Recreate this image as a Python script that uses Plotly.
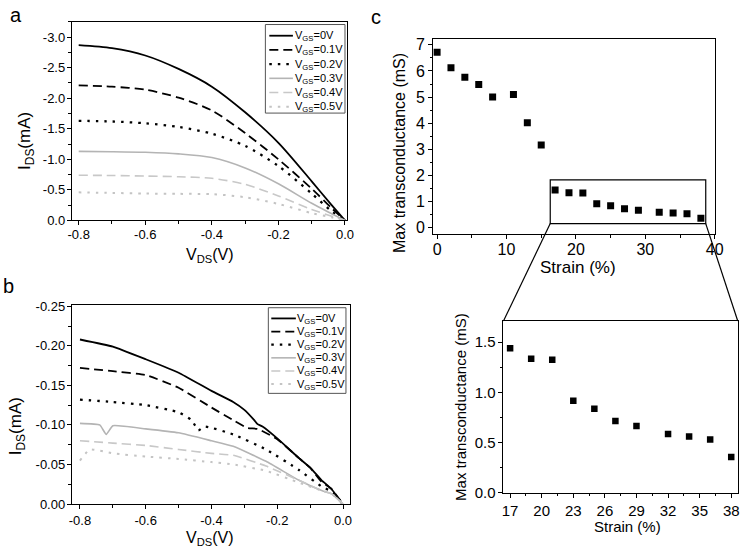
import plotly.graph_objects as go

W, H = 750, 560

# ---------------- data: panel a ----------------
a_vds = [-0.8, -0.7, -0.6, -0.5, -0.4, -0.3, -0.2, -0.1, -0.04, 0.0]
a_vgs0 = [-2.87, -2.82, -2.70, -2.48, -2.19, -1.77, -1.27, -0.64, -0.25, 0.0]
a_vgs01 = [-2.21, -2.19, -2.14, -2.01, -1.80, -1.43, -1.00, -0.52, -0.20, 0.0]
a_vgs02 = [-1.63, -1.62, -1.59, -1.53, -1.42, -1.22, -0.89, -0.44, -0.15, 0.0]
a_vgs03 = [-1.13, -1.125, -1.115, -1.09, -1.03, -0.86, -0.60, -0.28, -0.11, 0.0]
a_vgs04 = [-0.74, -0.735, -0.726, -0.715, -0.69, -0.59, -0.40, -0.18, -0.07, 0.0]
a_vgs05 = [-0.46, -0.45, -0.44, -0.435, -0.43, -0.38, -0.27, -0.12, -0.05, 0.0]

# ---------------- data: panel b ----------------
b0_v = [-0.8, -0.7, -0.6, -0.5, -0.4, -0.334, -0.3, -0.27, -0.26, -0.245, -0.2, -0.134, -0.1, -0.065, -0.035, 0.004]
b0_i = [-0.208, -0.199, -0.183, -0.166, -0.143, -0.129, -0.119, -0.106, -0.101, -0.098, -0.083, -0.058, -0.046, -0.030, -0.019, 0.004]
b1_v = [-0.8, -0.7, -0.6, -0.5, -0.4, -0.33, -0.29, -0.26, -0.2, -0.134, -0.1, -0.065, -0.035, 0.0]
b1_i = [-0.172, -0.168, -0.163, -0.147, -0.122, -0.105, -0.096, -0.095, -0.082, -0.058, -0.046, -0.028, -0.019, 0.0]
b2_v = [-0.8, -0.7, -0.6, -0.5, -0.46, -0.44, -0.42, -0.334, -0.234, -0.134, -0.065, -0.035, 0.0]
b2_i = [-0.132, -0.129, -0.125, -0.116, -0.106, -0.093, -0.098, -0.088, -0.069, -0.043, -0.022, -0.016, 0.0]
b3_v = [-0.8, -0.74, -0.72, -0.70, -0.6, -0.5, -0.4, -0.334, -0.234, -0.134, -0.065, -0.035, 0.0]
b3_i = [-0.102, -0.100, -0.088, -0.099, -0.095, -0.090, -0.080, -0.073, -0.054, -0.030, -0.017, -0.013, 0.0]
b4_v = [-0.8, -0.7, -0.6, -0.5, -0.4, -0.334, -0.234, -0.134, -0.065, -0.035, 0.0]
b4_i = [-0.080, -0.077, -0.074, -0.069, -0.064, -0.0616, -0.048, -0.030, -0.017, -0.013, 0.0]
b5_v = [-0.8, -0.77, -0.7, -0.6, -0.5, -0.4, -0.334, -0.234, -0.134, -0.065, -0.035, 0.0]
b5_i = [-0.055, -0.069, -0.064, -0.060, -0.057, -0.053, -0.050, -0.042, -0.027, -0.017, -0.013, 0.0]

# ---------------- data: panel c ----------------
strain = [0, 2, 4, 6, 8, 11, 13, 15, 17, 19, 21, 23, 25, 27, 29, 32, 34, 36, 38]
gm_max = [6.72, 6.12, 5.76, 5.48, 5.00, 5.10, 4.02, 3.16,
          1.44, 1.335, 1.325, 0.915, 0.835, 0.715, 0.665, 0.585, 0.56, 0.53, 0.355]
inset_strain = strain[8:]
inset_gm = gm_max[8:]

legend_labels = ["V<sub>GS</sub>=0V", "V<sub>GS</sub>=0.1V", "V<sub>GS</sub>=0.2V",
                 "V<sub>GS</sub>=0.3V", "V<sub>GS</sub>=0.4V", "V<sub>GS</sub>=0.5V"]

a_xtick_vals = [-0.8, -0.6, -0.4, -0.2, 0.0]
a_xtick_text = ["-0.8", "-0.6", "-0.4", "-0.2", "0.0"]
a_ytick_vals = [0.0, -0.5, -1.0, -1.5, -2.0, -2.5, -3.0]
a_ytick_text = ["0.0", "-0.5", "-1.0", "-1.5", "-2.0", "-2.5", "-3.0"]
b_ytick_vals = [0.0, -0.05, -0.10, -0.15, -0.20, -0.25]
b_ytick_text = ["0.00", "-0.05", "-0.10", "-0.15", "-0.20", "-0.25"]
c_xtick_vals = [0, 10, 20, 30, 40]
c_ytick_vals = [0, 1, 2, 3, 4, 5, 6, 7]
inset_xtick_vals = [17, 20, 23, 26, 29, 32, 35, 38]
inset_ytick_vals = [0.0, 0.5, 1.0, 1.5]
inset_ytick_text = ["0.0", "0.5", "1.0", "1.5"]

FONT = "Liberation Sans, Arial, sans-serif"

# ---------------- styles ----------------
styles = [
    dict(color="#000000", width=1.8, dash="solid"),
    dict(color="#000000", width=1.8, dash="9px,5px"),
    dict(color="#000000", width=2.3, dash="2.5px,6px"),
    dict(color="#b4b4b4", width=1.6, dash="solid"),
    dict(color="#c8c8c8", width=1.6, dash="9px,5px"),
    dict(color="#c4c4c4", width=2.0, dash="2.5px,6px"),
]

def px2x(p):
    return p / W

def px2y(p):
    return 1 - p / H

fig = go.Figure()

a_series = [a_vgs0, a_vgs01, a_vgs02, a_vgs03, a_vgs04, a_vgs05]
for lab, ys, st in zip(legend_labels, a_series, styles):
    fig.add_trace(go.Scatter(x=a_vds, y=ys, mode="lines", name=lab, line=dict(shape="spline", smoothing=0.8, **st),
                             xaxis="x", yaxis="y", showlegend=False))

b_series = [(b0_v, b0_i), (b1_v, b1_i), (b2_v, b2_i), (b3_v, b3_i), (b4_v, b4_i), (b5_v, b5_i)]
for lab, (xs, ys), st in zip(legend_labels, b_series, styles):
    fig.add_trace(go.Scatter(x=xs, y=ys, mode="lines", name=lab, line=dict(shape="spline", smoothing=0.4, **st),
                             xaxis="x2", yaxis="y2", showlegend=False))

fig.add_trace(go.Scatter(x=strain, y=gm_max, mode="markers",
                         marker=dict(symbol="square", size=7, color="black"),
                         xaxis="x3", yaxis="y3", showlegend=False))
fig.add_trace(go.Scatter(x=inset_strain, y=inset_gm, mode="markers",
                         marker=dict(symbol="square", size=6.5, color="black"),
                         xaxis="x4", yaxis="y4", showlegend=False))

def ax(domain, rng, tickvals, ticktext=None, size=13, minor_dtick=None, minor_tick0=0, standoff=0):
    d = dict(domain=domain, range=rng, showline=True, linecolor="black", linewidth=1,
             mirror=True, ticks="outside", ticklen=4, tickwidth=1, tickcolor="black",
             showgrid=False, zeroline=False, tickmode="array", tickvals=tickvals,
             ticklabelstandoff=standoff,
             tickfont=dict(family=FONT, size=size, color="black"))
    if ticktext is not None:
        d["ticktext"] = ticktext
    if minor_dtick is not None:
        d["minor"] = dict(dtick=minor_dtick, tick0=minor_tick0, ticklen=2.5, tickwidth=1,
                          tickcolor="black", ticks="outside", showgrid=False)
    return d

def mirror_ax(base, side, tickvals, rng, minor_dtick, minor_tick0=0):
    return dict(overlaying=base, side=side, range=rng, showline=False, showgrid=False,
                zeroline=False, showticklabels=False, ticks="inside", ticklen=4, tickwidth=1,
                tickcolor="black", tickmode="array", tickvals=tickvals,
                minor=dict(dtick=minor_dtick, tick0=minor_tick0, ticklen=2.5, tickwidth=1,
                           tickcolor="black", ticks="inside", showgrid=False))

# domains (pixel -> paper)
a_x = [px2x(69), px2x(349)]
a_y = [px2y(219.3), px2y(15)]
b_x = [px2x(69), px2x(352)]
b_y = [px2y(510.7), px2y(306.7)]
c_x = [px2x(436.7), px2x(723.3)]
c_y = [px2y(233.3), px2y(33.3)]
i_x = [px2x(508.3), px2x(746.7)]
i_y = [px2y(499), px2y(322.7)]

a_xr = [-0.8207, 0.0059]
a_yr = [0, -3.255]
b_xr = [-0.8248, 0.0209]
b_yr = [0, -0.251]
c_xr = [-0.57, 40.0]
c_yr = [-0.25, 7.21]
i_xr = [16.37, 38.62]
i_yr = [0, 1.71]

fig.update_layout(
    xaxis=ax(a_x, a_xr, a_xtick_vals, a_xtick_text, 13, 0.1, 0, -2),
    yaxis=ax(a_y, a_yr, a_ytick_vals, a_ytick_text, 13, 0.25, 0, -1),
    xaxis2=dict(ax(b_x, b_xr, a_xtick_vals, a_xtick_text, 13, 0.1, 0, 0), anchor="y2"),
    yaxis2=dict(ax(b_y, b_yr, b_ytick_vals, b_ytick_text, 13, 0.025, 0, -1), anchor="x2"),
    xaxis3=dict(ax(c_x, c_xr, c_xtick_vals, None, 16, 5, 0, -3), anchor="y3"),
    yaxis3=dict(ax(c_y, c_yr, c_ytick_vals, None, 16, 0.5, 0, 0), anchor="x3"),
    xaxis4=dict(ax(i_x, i_xr, inset_xtick_vals, None, 15, 1.5, 17, 0), anchor="y4"),
    yaxis4=dict(ax(i_y, i_yr, inset_ytick_vals, inset_ytick_text, 15, 0.25, 0, 0), anchor="x4"),
    xaxis5=dict(mirror_ax("x3", "top", c_xtick_vals, c_xr, 5), anchor="y3"),
    yaxis5=dict(mirror_ax("y3", "right", c_ytick_vals, c_yr, 0.5), anchor="x3"),
    xaxis6=dict(mirror_ax("x4", "top", inset_xtick_vals, i_xr, 1.5, 17), anchor="y4"),
    yaxis6=dict(mirror_ax("y4", "right", inset_ytick_vals, i_yr, 0.25), anchor="x4"),
)

# zoom rectangle on panel c and connecting lines
rect_x0, rect_x1, rect_y0, rect_y1 = 16.3, 38.7, 0.15, 1.83
shapes = [dict(type="rect", xref="x3", yref="y3", x0=rect_x0, x1=rect_x1, y0=rect_y0, y1=rect_y1,
               line=dict(color="black", width=1.2))]

def data2paper(v, rng, dom):
    return dom[0] + (v - rng[0]) / (rng[1] - rng[0]) * (dom[1] - dom[0])

bl = (data2paper(rect_x0, c_xr, c_x), data2paper(rect_y0, c_yr, c_y))
br = (data2paper(rect_x1, c_xr, c_x), data2paper(rect_y0, c_yr, c_y))
shapes.append(dict(type="line", xref="paper", yref="paper", x0=bl[0], y0=bl[1], x1=i_x[0], y1=i_y[1],
                   line=dict(color="black", width=1.2)))
shapes.append(dict(type="line", xref="paper", yref="paper", x0=br[0], y0=br[1], x1=i_x[1], y1=i_y[1],
                   line=dict(color="black", width=1.2)))

annotations = []

def legend_block(box, y0, dy, line_x, text_x):
    shapes.append(dict(type="rect", xref="paper", yref="paper",
                       x0=px2x(box[0]), x1=px2x(box[1]), y0=px2y(box[3]), y1=px2y(box[2]),
                       line=dict(color="#555555", width=1), fillcolor="white", layer="above"))
    for k, (lab, st) in enumerate(zip(legend_labels, styles)):
        yy = y0 + k * dy
        shapes.append(dict(type="line", xref="paper", yref="paper",
                           x0=px2x(line_x[0]), x1=px2x(line_x[1]), y0=px2y(yy), y1=px2y(yy),
                           line=dict(color=st["color"], width=st["width"], dash=st["dash"]), layer="above"))
        annotations.append(dict(xref="paper", yref="paper", x=px2x(text_x), y=px2y(yy + 0.5),
                                text=lab, showarrow=False, xanchor="left", yanchor="middle",
                                font=dict(family=FONT, size=11, color="black")))

legend_block((266, 347, 18, 109), 29.5, 14.6, (270, 294), 294.5)
legend_block((269, 348, 309, 397), 320, 13.5, (272, 297), 296.5)

def text(x, y, s, size, angle=0, xanchor="center"):
    annotations.append(dict(xref="paper", yref="paper", x=px2x(x), y=px2y(y), text=s,
                            showarrow=False, textangle=angle, xanchor=xanchor, yanchor="middle",
                            font=dict(family=FONT, size=size, color="black")))

# panel labels
text(12, 8, "a", 20)
text(5, 287, "b", 20)
text(379, 10, "c", 20)
# axis titles
text(23, 138, "I<sub>DS</sub>(mA)", 17, -90)
text(210, 255, "V<sub>DS</sub>(V)", 16)
text(14, 431, "I<sub>DS</sub>(mA)", 17, -90)
text(210, 546, "V<sub>DS</sub>(V)", 16)
text(403, 150, "Max transconductance (mS)", 16, -90)
text(584, 268, "Strain (%)", 17)
text(465, 411, "Max transconductance (mS)", 15, -90)
text(634, 534, "Strain (%)", 15)

fig.update_layout(shapes=shapes, annotations=annotations,
                  width=W, height=H, margin=dict(l=0, r=0, t=0, b=0),
                  paper_bgcolor="white", plot_bgcolor="white", showlegend=False,
                  font=dict(family=FONT, color="black"))

fig.write_html("out.html", config={"displayModeBar": False},
               post_script="document.body.style.margin='0px';document.body.style.overflow='hidden';")
